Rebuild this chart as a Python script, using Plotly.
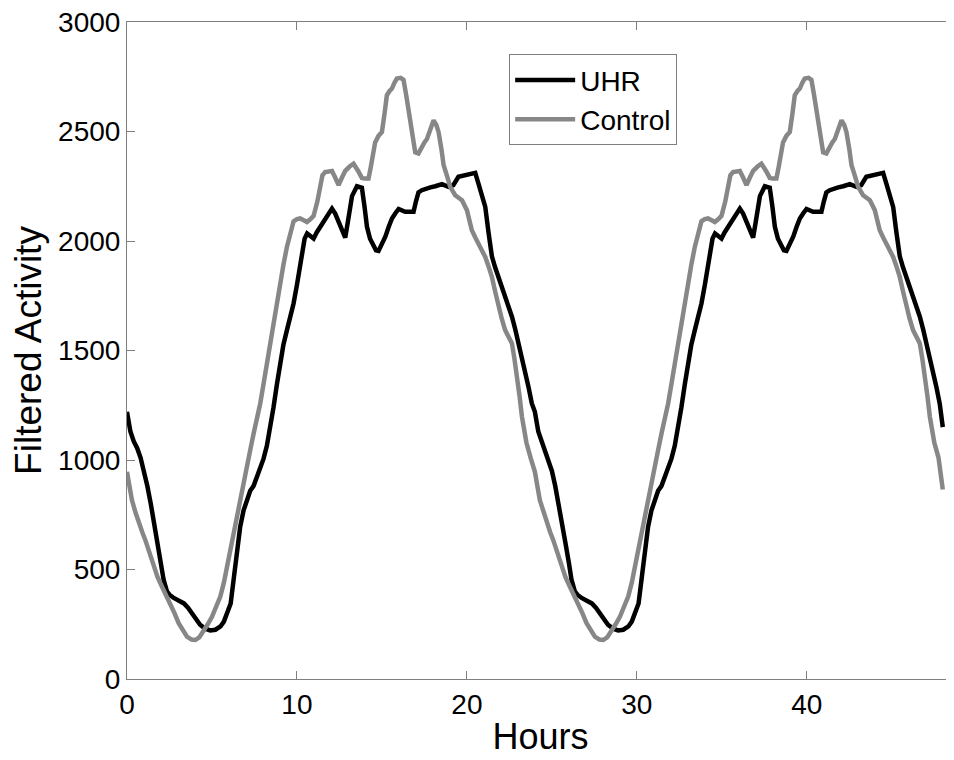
import numpy as np
import plotly.graph_objects as go

# One 24-h profile; the chart is double-plotted (day 1 and day 2 identical)
uhr_hours = [0.0, 0.2, 0.4, 0.6, 0.8, 1.0, 1.2, 1.4, 1.6, 1.8, 2.0, 2.15, 2.35, 2.5, 2.75, 3.1,
             3.35, 3.6, 3.85, 4.1, 4.3, 4.6, 4.9, 5.2, 5.5, 5.7, 5.9, 6.1, 6.3, 6.5, 6.66,
             6.86, 7.06, 7.25, 7.45, 7.65, 7.84, 8.03, 8.23, 8.42, 8.62, 8.82, 9.02, 9.2,
             9.41, 9.6, 9.8, 10.0, 10.19, 10.35, 10.45, 10.6, 10.8, 10.98, 11.17, 11.37,
             11.57, 11.76, 11.95, 12.06, 12.25, 12.45, 12.65, 12.84, 13.0, 13.24, 13.53,
             13.82, 13.97, 14.12, 14.3, 14.51, 14.65, 14.8, 15.0, 15.2, 15.4, 15.59, 15.8,
             15.98, 16.37, 16.86, 17.0, 17.15, 17.35, 17.55, 17.85, 18.14, 18.53, 18.92,
             19.2, 19.5, 19.9, 20.2, 20.49, 20.68, 20.88, 21.08, 21.27, 21.47, 21.66, 21.86,
             22.05, 22.25, 22.45, 22.65, 22.85, 23.04, 23.24, 23.43, 23.62, 23.82]
uhr_values = [1220, 1130, 1085, 1054, 1010, 950, 880, 800, 710, 620, 530, 455, 400, 385, 370,
              355, 345, 325, 300, 275, 248, 230, 222, 225, 240, 262, 300, 345, 470, 590, 695,
              770, 825, 860, 882, 920, 962, 1005, 1065, 1140, 1240, 1345, 1445, 1525,
              1593, 1650, 1715, 1800, 1897, 1965, 2010, 2034, 2025, 2011, 2040, 2064,
              2090, 2110, 2135, 2148, 2125, 2090, 2050, 2015, 2090, 2205, 2250,
              2243, 2160, 2065, 2010, 1975, 1958, 1955, 1985, 2020, 2065, 2103, 2128,
              2146, 2133, 2133, 2180, 2222, 2232, 2238, 2245, 2250, 2260, 2247,
              2255, 2293, 2300, 2305, 2311, 2262, 2205, 2156, 2040, 1930, 1880, 1836,
              1790, 1745, 1700, 1654, 1595, 1532, 1470, 1410, 1335, 1258]

control_hours = [0.0, 0.29, 0.5, 0.68, 0.9, 1.08, 1.3, 1.57, 1.8, 2.06, 2.3, 2.55, 2.8, 3.04,
                 3.3, 3.53, 3.8, 4.02, 4.25, 4.5, 4.75, 5.0, 5.25, 5.49, 5.7, 5.88, 6.08,
                 6.27, 6.47, 6.66, 6.86, 7.06, 7.25, 7.45, 7.65, 7.84, 8.03, 8.23, 8.42,
                 8.62, 8.82, 9.02, 9.2, 9.41, 9.6, 9.8, 10.0, 10.19, 10.4, 10.59, 10.8,
                 10.98, 11.2, 11.37, 11.5, 11.66, 11.85, 12.06, 12.25, 12.45, 12.65, 12.84,
                 13.1, 13.33, 13.6, 13.82, 14.0, 14.21, 14.35, 14.6, 14.8, 15.0, 15.15,
                 15.29, 15.45, 15.59, 15.75, 15.88, 16.1, 16.27, 16.42, 16.57, 16.75, 16.96,
                 17.15, 17.35, 17.5, 17.65, 17.85, 18.04, 18.2, 18.33, 18.5, 18.63, 18.82,
                 19.02, 19.31, 19.71, 20.0, 20.15, 20.29, 20.5, 20.68, 20.88, 21.08, 21.27,
                 21.47, 21.66, 21.86, 22.05, 22.25, 22.45, 22.65, 22.8, 22.94, 23.1, 23.24,
                 23.5, 23.75]
control_values = [946, 817, 760, 712, 670, 634, 580, 513, 465, 421, 385, 347, 300, 255,
                  220, 193, 180, 178, 190, 216, 250, 284, 330, 376, 440, 513, 590,
                  665, 750, 832, 900, 969, 1045, 1121, 1190, 1258, 1345, 1441, 1530,
                  1623, 1715, 1806, 1890, 1973, 2035, 2090, 2100, 2103, 2095, 2087, 2100,
                  2115, 2180, 2262, 2300, 2315, 2318, 2320, 2290, 2255, 2290, 2320,
                  2340, 2353, 2320, 2288, 2285, 2285, 2340, 2450, 2480, 2498, 2580,
                  2665, 2685, 2696, 2725, 2742, 2745, 2736, 2670, 2595, 2500, 2405,
                  2400, 2435, 2450, 2466, 2510, 2551, 2530, 2498, 2420, 2346, 2300,
                  2247, 2209, 2186, 2141, 2095, 2049, 2015, 1989, 1960, 1927, 1885,
                  1836, 1770, 1700, 1645, 1593, 1565, 1532, 1460, 1390, 1290, 1197,
                  1080, 1010]

# last reading at the right end of the recording
uhr_end = (48.0, 1150)
control_end = (48.0, 865)


def double_plot(hours, values, end):
    h = np.asarray(hours, dtype=float)
    v = np.asarray(values, dtype=float)
    x = np.concatenate([h, h + 24.0, [end[0]]])
    y = np.concatenate([v, v, [end[1]]])
    return x, y


ux, uy = double_plot(uhr_hours, uhr_values, uhr_end)
cx, cy = double_plot(control_hours, control_values, control_end)

FONT = "Liberation Sans, Arial, Helvetica, sans-serif"
AXIS_COLOR = "#7f7f7f"

fig = go.Figure()
fig.add_trace(go.Scatter(x=ux, y=uy, mode="lines", name="UHR",
                         line=dict(color="#000000", width=4.5)))
fig.add_trace(go.Scatter(x=cx, y=cy, mode="lines", name="Control",
                         line=dict(color="#878787", width=4.5)))

fig.update_layout(
    width=946, height=752,
    margin=dict(l=119, r=0, t=14, b=81, autoexpand=False),
    paper_bgcolor="white", plot_bgcolor="white",
    font=dict(family=FONT, color="black", size=28),
    showlegend=True,
    legend=dict(x=0.4621, y=0.951, xanchor="left", yanchor="top",
                bordercolor=AXIS_COLOR, borderwidth=1, bgcolor="white",
                font=dict(size=28, family=FONT), tracegroupgap=0,
                itemwidth=60),
    xaxis=dict(range=[0, 48.66], tickvals=[0, 10, 20, 30, 40, 50],
               showgrid=False, zeroline=False, showline=True, linecolor=AXIS_COLOR,
               linewidth=1, mirror="ticks", ticks="inside", ticklen=8,
               tickcolor=AXIS_COLOR, tickfont=dict(size=28, family=FONT),
               ticklabeloverflow="allow",
               title=dict(text="Hours", font=dict(size=36, family=FONT), standoff=5)),
    yaxis=dict(range=[0, 3000], tickvals=[0, 500, 1000, 1500, 2000, 2500, 3000],
               showgrid=False, zeroline=False, showline=True, linecolor=AXIS_COLOR,
               linewidth=1, mirror="ticks", ticks="inside", ticklen=8,
               tickcolor=AXIS_COLOR, tickfont=dict(size=28, family=FONT),
               ticklabeloverflow="allow",
               title=dict(text="Filtered Activity", font=dict(size=37, family=FONT), standoff=9)),
)

fig.write_html("out.html")
